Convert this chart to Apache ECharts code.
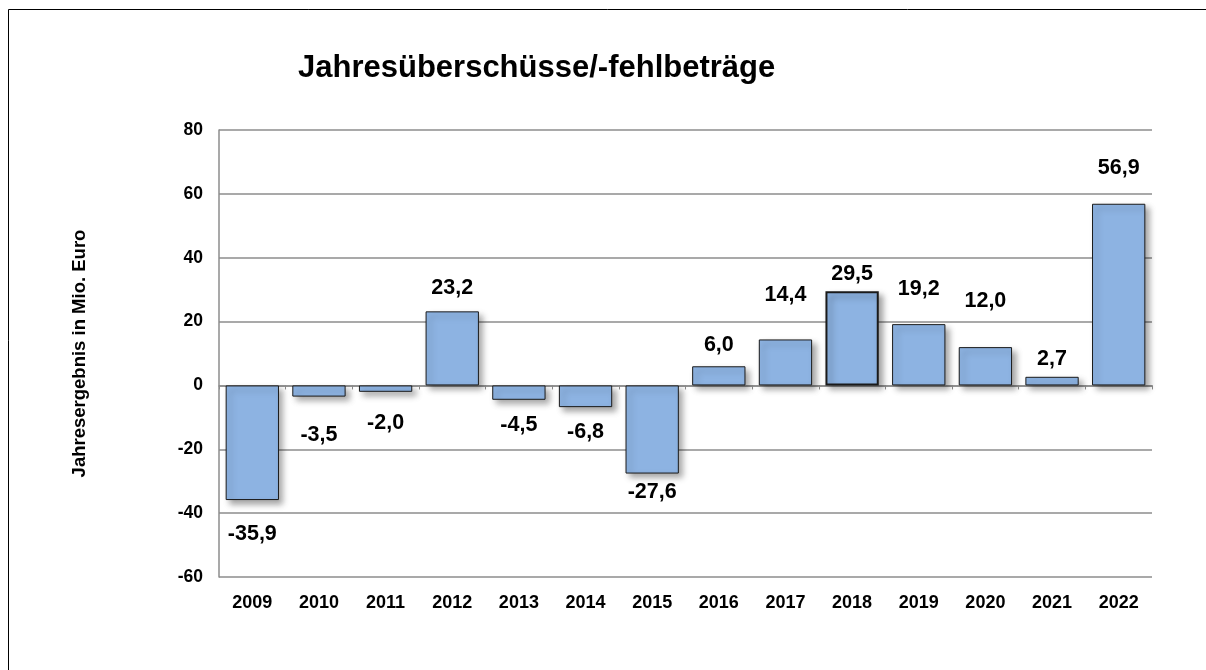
<!DOCTYPE html>
<html><head><meta charset="utf-8">
<script src="https://cdn.jsdelivr.net/npm/echarts@6/dist/echarts.min.js"></script>
<style>html,body{margin:0;padding:0;background:#fff}#c{width:1206px;height:670px}</style>
</head><body><div id="c"></div>
<script>
const years = ['2009','2010','2011','2012','2013','2014','2015','2016','2017','2018','2019','2020','2021','2022'];
const values = [-35.9, -3.5, -2.0, 23.2, -4.5, -6.8, -27.6, 6.0, 14.4, 29.5, 19.2, 12.0, 2.7, 56.9];
const yTicks = [-60, -40, -20, 0, 20, 40, 60, 80];
// label gap (px) from bar end to label centre — styling only
const labelGap = [34, 38, 31, 23, 25, 25, 19, 21, 44, 17, 35, 46, 18, 36];

const FONT = '"Liberation Sans", Arial, sans-serif';
const fmt = v => v.toFixed(1).replace('.', ',');

const chart = echarts.init(document.getElementById('c'));
const seriesData = values.map((v, i) => ({
  value: v,
  itemStyle: i === 9 ? {borderWidth: 2} : undefined,
  label: {position: v >= 0 ? 'top' : 'bottom', distance: labelGap[i] - 11}
}));

chart.setOption({
  animation: false,
  backgroundColor: '#fff',
  title: {
    text: 'Jahresüberschüsse/-fehlbeträge',
    left: 298, top: 53, padding: 0,
    textStyle: {fontFamily: FONT, fontWeight: 'bold', fontSize: 31, color: '#000'}
  },
  graphic: [{
    type: 'rect', left: 6, top: 7,
    shape: {x: 0, y: 0, width: 1400, height: 800},
    style: {fill: 'none', stroke: '#000', lineWidth: 1}, silent: true, z: -1
  }],
  grid: {left: 219, top: 130, width: 933, height: 447, containLabel: false},
  xAxis: [{
    type: 'category', data: years,
    axisLine: {onZero: true, lineStyle: {color: '#8c8c8c', width: 1.5}},
    axisTick: {show: true, length: 4, inside: false, lineStyle: {color: '#8c8c8c'}},
    axisLabel: {show: false}, splitLine: {show: false}
  }, {
    type: 'category', data: years, position: 'bottom',
    axisLine: {show: false}, axisTick: {show: false},
    axisLabel: {fontFamily: FONT, fontWeight: 'bold', fontSize: 18, color: '#000', margin: 17}
  }],
  yAxis: {
    type: 'value', min: -60, max: 80, interval: 20,
    name: 'Jahresergebnis in Mio. Euro', nameLocation: 'middle', nameGap: 130,
    nameTextStyle: {fontFamily: FONT, fontWeight: 'bold', fontSize: 18.5, color: '#000'},
    axisLine: {show: true, lineStyle: {color: '#8c8c8c', width: 1.5}},
    axisTick: {show: false},
    axisLabel: {fontFamily: FONT, fontWeight: 'bold', fontSize: 17.5, color: '#000', margin: 16,
      formatter: v => yTicks.includes(v) ? String(v) : ''},
    splitLine: {show: true, lineStyle: {color: '#8c8c8c', width: 1.5}}
  },
  series: [{
    type: 'bar', xAxisIndex: 0, data: seriesData, barCategoryGap: '20%',
    itemStyle: {color: '#8DB3E2', borderColor: '#1a1a1a', borderWidth: 1,
      shadowColor: 'rgba(0,0,0,0.35)', shadowBlur: 6, shadowOffsetX: 4, shadowOffsetY: 4},
    label: {show: true, formatter: p => fmt(p.value),
      fontFamily: FONT, fontWeight: 'bold', fontSize: 21.5, color: '#000', lineHeight: 22}
  }]
});
</script></body></html>
